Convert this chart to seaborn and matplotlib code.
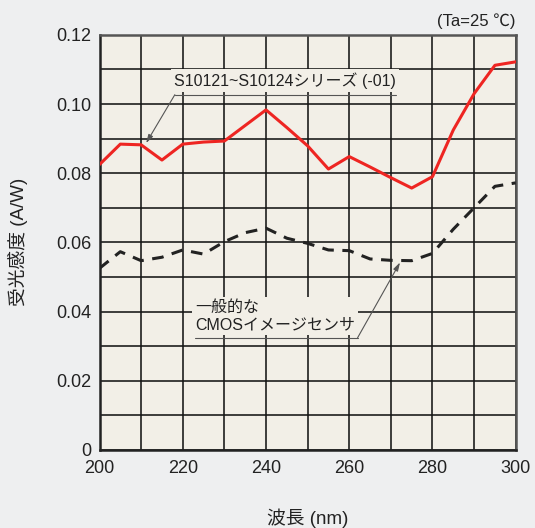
import matplotlib
matplotlib.use("Agg")
import matplotlib.pyplot as plt
import seaborn as sns
import pandas as pd

# ---- data ----
wavelength = [200, 205, 210, 215, 220, 225, 230, 235, 240, 245, 250,
              255, 260, 265, 270, 275, 280, 285, 290, 295, 300]
s10121_series = [0.0825, 0.0884, 0.0882, 0.0838, 0.0884, 0.0890, 0.0893, 0.0938, 0.0983, 0.0932, 0.0879,
                 0.0812, 0.0848, 0.0818, 0.0787, 0.0757, 0.0790, 0.0925, 0.1030, 0.1112, 0.1122]
cmos_sensor = [0.0525, 0.0573, 0.0547, 0.0557, 0.0578, 0.0566, 0.0602, 0.0628, 0.0641, 0.0612, 0.0597,
               0.0578, 0.0576, 0.0552, 0.0548, 0.0547, 0.0568, 0.0638, 0.0700, 0.0762, 0.0772]
x_ticks = [200, 220, 240, 260, 280, 300]
y_ticks = [0, 0.02, 0.04, 0.06, 0.08, 0.10, 0.12]
y_tick_labels = ["0", "0.02", "0.04", "0.06", "0.08", "0.10", "0.12"]
label_red = "S10121~S10124シリーズ (-01)"
label_black = "一般的な\nCMOSイメージセンサ"
x_label = "波長 (nm)"
y_label = "受光感度 (A/W)"
condition = "(Ta=25 ℃)"

df = pd.DataFrame({"wl": wavelength, "red": s10121_series, "black": cmos_sensor})

FIG_BG = "#eeeff0"
AX_BG = "#f2efe7"
TXT = "#222222"

sns.set_style("white")
plt.rcParams['font.family'] = ['Liberation Sans', 'Noto Sans CJK JP', 'DejaVu Sans']

fig = plt.figure(figsize=(5.35, 5.28), dpi=100, facecolor=FIG_BG)
ax = fig.add_axes([0.186, 0.148, 0.778, 0.786])
ax.set_facecolor(AX_BG)

sns.lineplot(data=df, x="wl", y="red", ax=ax, color="#ee2522", linewidth=2.2, zorder=3)
sns.lineplot(data=df, x="wl", y="black", ax=ax, color="#222222", linewidth=2.2,
             linestyle=(0, (3.8, 2.8)), zorder=3)

ax.set_xlim(200, 300)
ax.set_ylim(0, 0.12)
ax.set_xticks(x_ticks)
ax.set_yticks(y_ticks)
ax.set_yticklabels(y_tick_labels)
ax.set_xticks(range(200, 301, 10), minor=True)
ax.set_yticks([i * 0.01 for i in range(13)], minor=True)
ax.grid(True, which="both", color="#151515", linewidth=1.15, zorder=1)
ax.set_axisbelow(True)
ax.tick_params(which="both", length=0, labelsize=13, colors=TXT)
ax.tick_params(axis="y", pad=6)
ax.tick_params(axis="x", pad=7)

for side in ["left", "bottom"]:
    ax.spines[side].set_color("#222222")
    ax.spines[side].set_linewidth(1.8)
for side in ["top", "right"]:
    ax.spines[side].set_color("#555555")
    ax.spines[side].set_linewidth(1.8)

ax.set_xlabel(x_label, fontsize=13.5, color=TXT)
ax.xaxis.label.set_va("center")
ax.xaxis.set_label_coords(0.5, -0.164)
ax.set_ylabel(y_label, fontsize=13.5, color=TXT)
ax.yaxis.label.set_va("center")
ax.yaxis.set_label_coords(-0.196, 0.5)

ax.text(1.0, 1.015, condition, transform=ax.transAxes, ha="right", va="bottom",
        fontsize=12, color=TXT)

bbox = dict(facecolor=AX_BG, edgecolor="none", pad=2)
lead = dict(color="#555555", linewidth=0.8)

# red series annotation
ax.text(244.6, 0.1068, label_red, ha="center", va="center", fontsize=11.5,
        color=TXT, bbox=bbox, zorder=4)
ax.plot([218.1, 271.2], [0.1027, 0.1027], **lead, zorder=4)
ax.annotate("", xy=(211.2, 0.0887), xytext=(218.1, 0.1027),
            arrowprops=dict(arrowstyle="-|>,head_length=0.5,head_width=0.15",
                            color="#555555", lw=0.8, shrinkA=0, shrinkB=0), zorder=4)

# black series annotation
ax.text(222.9, 0.0388, label_black, ha="left", va="center", fontsize=11.5,
        color=TXT, bbox=bbox, zorder=4, linespacing=1.2)
ax.plot([222.9, 262.0], [0.0324, 0.0324], **lead, zorder=4)
ax.annotate("", xy=(272.2, 0.0542), xytext=(262.0, 0.0324),
            arrowprops=dict(arrowstyle="-|>,head_length=0.5,head_width=0.15",
                            color="#555555", lw=0.8, shrinkA=0, shrinkB=0), zorder=4)

fig.savefig("out.png", dpi=100, facecolor=FIG_BG)
